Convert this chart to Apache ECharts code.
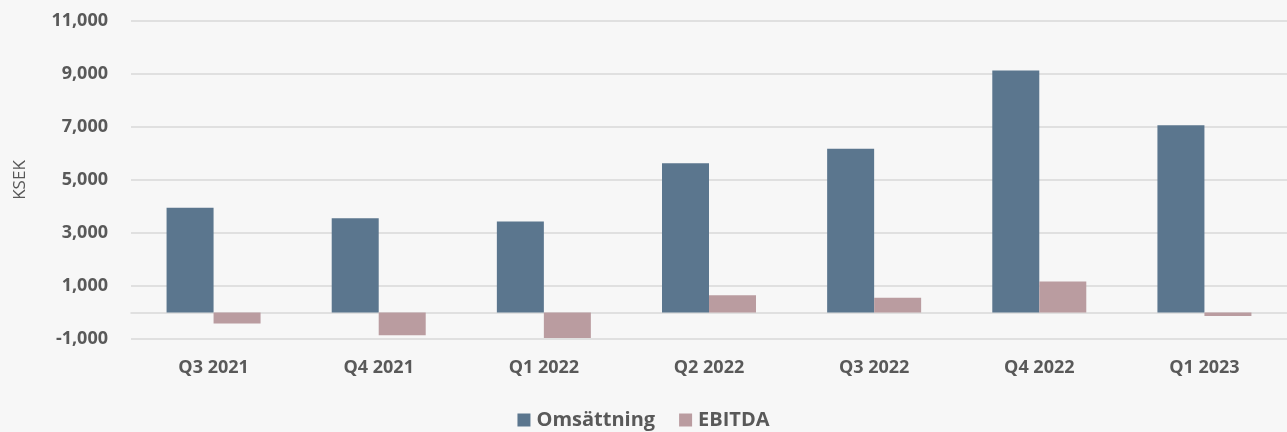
<!DOCTYPE html>
<html>
<head>
<meta charset="utf-8">
<script src="https://cdn.jsdelivr.net/npm/echarts@6/dist/echarts.min.js"></script>
<style>
  html, body { margin: 0; padding: 0; background: #f7f7f7; }
  #chart { width: 1287px; height: 432px; }
</style>
</head>
<body>
<div id="chart"></div>
<script>
var quarters = ['Q3 2021', 'Q4 2021', 'Q1 2022', 'Q2 2022', 'Q3 2022', 'Q4 2022', 'Q1 2023'];
var omsattning = [3950, 3560, 3430, 5630, 6180, 9130, 7070];
var ebitda = [-415, -860, -960, 650, 560, 1170, -130];

var textColor = '#595959';
var fontFamily = '"Open Sans", "Noto Sans", sans-serif';

var chart = echarts.init(document.getElementById('chart'));

var option = {
    backgroundColor: '#f7f7f7',
    textStyle: { fontFamily: fontFamily, color: textColor },
    animation: false,
    grid: {
        left: 131,
        right: -3,
        top: 21,
        bottom: 93,
        containLabel: false
    },
    legend: {
        bottom: -3,
        left: 'center',
        itemWidth: 13,
        itemHeight: 13,
        itemGap: 24,
        icon: 'rect',
        textStyle: { fontSize: 20, fontWeight: 'bold', color: textColor, padding: [0, 0, 0, 1] },
        data: ['Omsättning', 'EBITDA']
    },
    xAxis: {
        type: 'category',
        data: quarters,
        axisLine: { lineStyle: { color: '#d9d9d9', width: 1.5 } },
        axisTick: { show: false },
        axisLabel: { fontSize: 18, fontWeight: 'bold', color: textColor, margin: 20 }
    },
    yAxis: {
        type: 'value',
        min: -1000,
        max: 11000,
        interval: 2000,
        name: 'KSEK',
        nameLocation: 'middle',
        nameGap: 102,
        nameRotate: 90,
        nameTextStyle: { fontSize: 17, color: textColor },
        axisLine: { show: false },
        axisTick: { show: false },
        splitLine: { lineStyle: { color: '#d9d9d9', width: 1.5 } },
        axisLabel: {
            fontSize: 18,
            fontWeight: 'bold',
            color: textColor,
            margin: 23,
            formatter: function (v) { return v.toLocaleString('en-US'); }
        }
    },
    series: [
        {
            name: 'Omsättning',
            type: 'bar',
            data: omsattning,
            barWidth: 47,
            barGap: '0%',
            itemStyle: { color: '#5b768e' }
        },
        {
            name: 'EBITDA',
            type: 'bar',
            data: ebitda,
            barWidth: 47,
            itemStyle: { color: '#ba9ca0' }
        }
    ]
};

chart.setOption(option);
</script>
</body>
</html>
